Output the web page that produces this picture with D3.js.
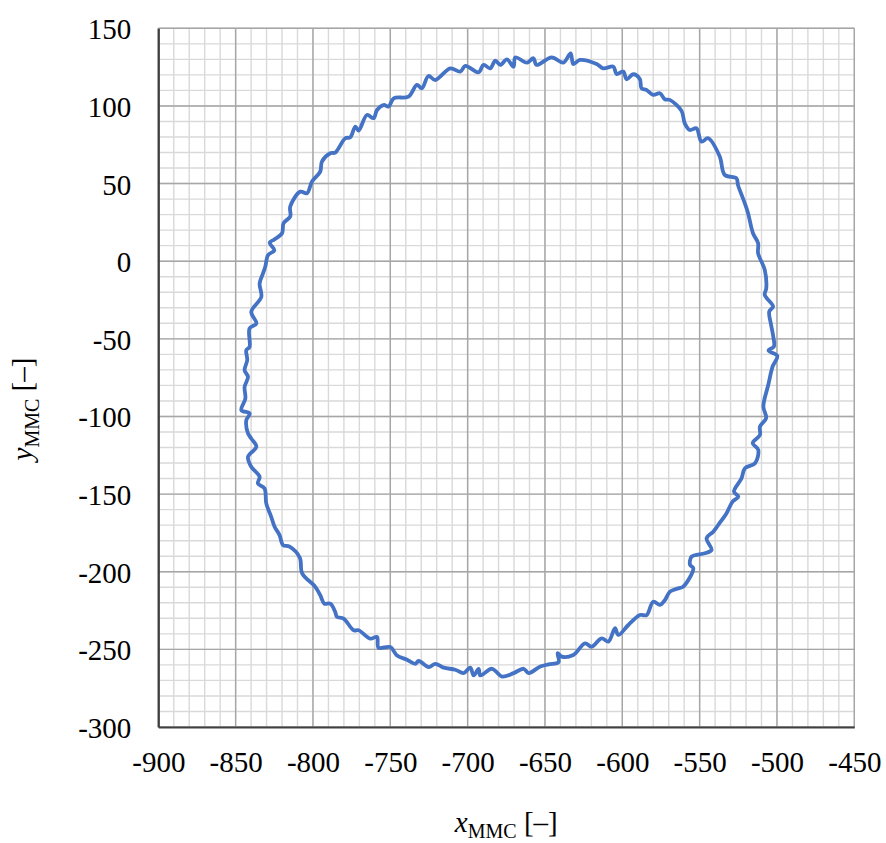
<!DOCTYPE html>
<html>
<head>
<meta charset="utf-8">
<script src="https://cdn.jsdelivr.net/npm/d3@7"></script>
<style>
	body { margin: 0; background: #fff; }
	text { font-family: "Liberation Serif", "Times New Roman", Tinos, serif; fill: #000; }
</style>
</head>
<body>
<div id="chart"></div>
<script>
// traced trajectory, clockwise from the left side
const xs = [-841, -836.6, -839.9, -833.4, -834.5, -832.3, -830.8, -829, -825, -828, -825, -820, -819, -814.7, -814.7, -808.2, -803.9, -800.6, -795.3, -794.2, -788.8, -785.6, -779.1, -775.9, -772.6, -770.5, -765.1, -760.8, -758.6, -754.3, -751.1, -747.8, -738.2, -732.8, -729.6, -725.3, -721, -711.2, -704.8, -701.5, -692.9, -689.7, -685.4, -682.1, -678.9, -674.6, -670.3, -669.2, -661.6, -657.5, -655.4, -645.7, -638.1, -633.4, -631.7, -627.4, -616.6, -612.3, -605.8, -603.7, -599.4, -597.2, -592.9, -588.6, -587.6, -584.4, -580, -575.7, -572.5, -569.3, -561.7, -559.6, -556.4, -552.1, -548.8, -544.5, -537, -533.8, -526.2, -525.2, -520.8, -518.7, -515.5, -512.2, -512.2, -507.9, -506.9, -507.9, -502.5, -505, -504, -502.4, -502, -505.5, -499.8, -502.8, -505.6, -508.8, -507, -511, -511, -515.7, -512.1, -514.2, -520.7, -522.9, -527.8, -525, -528.7, -532.6, -538, -541.2, -545.5, -542.3, -546.6, -555.2, -556.2, -554.1, -560.6, -563.8, -569.2, -572.4, -575.6, -580, -584.3, -588.6, -596.1, -602.6, -604.7, -609, -613.4, -619.8, -624.1, -631.7, -639.2, -641.8, -641.2, -647.6, -653, -660.6, -663.8, -670.3, -677.8, -684.3, -691.8, -692.9, -696.1, -698.3, -702.6, -708, -715.5, -720.9, -725.2, -731.7, -733.8, -739.2, -745.7, -750, -757.6, -758.6, -763, -770.5, -773.7, -780.2, -784.5, -785.6, -788.8, -792.7, -795.3, -798.5, -807, -808.5, -815.1, -819.4, -821.6, -824.8, -827, -830.2, -831.3, -835.6, -834.5, -839.9, -842, -836.6, -839.9, -842, -843.1, -840.9, -846.3, -843.7, -844.2, -842, -844.2, -842.5, -843.1, -841];
const ys = [-43.3, -40.1, -32.6, -23, -14.4, -7.9, -3.4, 4, 7, 12, 14, 18, 24.5, 28.8, 35.2, 44.8, 43.8, 51.3, 57.7, 64.2, 69.5, 70, 79.2, 79.8, 86.7, 84.1, 94.2, 92.1, 97.4, 100.6, 99.6, 104.9, 106, 113.5, 111.4, 119.3, 116.7, 124.2, 122.1, 125.8, 121.7, 126.4, 124.2, 129.2, 126.4, 130, 125.3, 131.3, 127.9, 130.7, 126.4, 131.3, 127.9, 133.9, 127, 129.6, 127, 124.2, 125.3, 120.6, 122.1, 117.2, 120.4, 117.2, 111.4, 110.3, 107.1, 108.2, 104.3, 103.9, 96.8, 88.8, 84.5, 85.6, 77, 79.2, 67.4, 55.6, 53.4, 49.1, 37.3, 30.9, 18, 11.6, 5.1, -5.6, -17.4, -21.7, -29.2, -32.4, -40, -48.5, -55, -57.5, -61, -67.8, -79.6, -93.6, -101, -106.5, -111.9, -117.2, -121.5, -130.1, -133.3, -139.8, -148.4, -151.6, -154.8, -162.3, -169.9, -174.2, -178.5, -186, -188.1, -190.3, -195.6, -197.8, -209.6, -210.7, -212.8, -218.2, -221.4, -219.3, -227.9, -227.9, -234.3, -240.7, -236.4, -245, -242.9, -248.3, -246.1, -253.6, -254.7, -252.4, -258.2, -259.7, -261, -265.3, -262.5, -265.3, -267.5, -262.5, -266.8, -262.5, -266.8, -261.8, -265.3, -263.1, -261.8, -259.3, -261.4, -257.5, -259.3, -256.7, -253.9, -248.5, -248.9, -242, -243.1, -237.7, -237.7, -230.2, -229.1, -225.9, -220.5, -220.5, -215.1, -209.7, -201, -191, -183.9, -182.8, -176.4, -171, -164.6, -156, -146.4, -143.1, -138.8, -132.4, -126, -119.5, -114.2, -110.9, -102.4, -98.1, -95.9, -88.4, -80.9, -74.5, -70.2, -63.7, -57.3, -55.2, -43.3];

const xTicks = [-900, -850, -800, -750, -700, -650, -600, -550, -500, -450];
const yTicks = [150, 100, 50, 0, -50, -100, -150, -200, -250, -300];

const width = 886,
	height = 843,
	mLeft = 158.3,
	mRight = 854.3,
	mTop = 28.3,
	mBottom = 727,
	serif = '"Liberation Serif", "Times New Roman", Tinos, serif';

const svg = d3
	.select("#chart")
	.append("svg")
	.attr("width", width)
	.attr("height", height);

const x = d3.scaleLinear().domain([-900, -450]).range([mLeft, mRight]);
const y = d3.scaleLinear().domain([-300, 150]).range([mBottom, mTop]);

// minor grid (every 10)
const g = svg.append("g");
g.selectAll(".mx")
	.data(d3.range(-900, -449, 10))
	.enter()
	.append("line")
	.attr("x1", (d) => x(d))
	.attr("x2", (d) => x(d))
	.attr("y1", mTop)
	.attr("y2", mBottom)
	.attr("stroke", "#d9d9d9")
	.attr("stroke-width", 1.4);
g.selectAll(".my")
	.data(d3.range(-300, 151, 10))
	.enter()
	.append("line")
	.attr("x1", mLeft)
	.attr("x2", mRight)
	.attr("y1", (d) => y(d))
	.attr("y2", (d) => y(d))
	.attr("stroke", "#d9d9d9")
	.attr("stroke-width", 1.4);

// major grid
g.selectAll(".Mx")
	.data(xTicks)
	.enter()
	.append("line")
	.attr("x1", (d) => x(d))
	.attr("x2", (d) => x(d))
	.attr("y1", mTop)
	.attr("y2", mBottom)
	.attr("stroke", "#a6a6a6")
	.attr("stroke-width", 1.4);
g.selectAll(".My")
	.data(yTicks)
	.enter()
	.append("line")
	.attr("x1", mLeft)
	.attr("x2", mRight)
	.attr("y1", (d) => y(d))
	.attr("y2", (d) => y(d))
	.attr("stroke", "#a6a6a6")
	.attr("stroke-width", 1.4);

// axes
const xAxis = svg
	.append("g")
	.attr("transform", `translate(0,${mBottom})`)
	.call(d3.axisBottom(x).tickValues(xTicks).tickSize(0).tickPadding(24).tickFormat(d3.format("d")));
const yAxis = svg
	.append("g")
	.attr("transform", `translate(${mLeft},0)`)
	.call(d3.axisLeft(y).tickValues(yTicks).tickSize(0).tickPadding(27).tickFormat(d3.format("d")));

[xAxis, yAxis].forEach((a) => {
	a.attr("font-family", serif).attr("font-size", 29);
	a.select(".domain").attr("stroke", "#404040").attr("stroke-width", 2.2);
	a.selectAll("text")
		.style("font-family", serif)
		.style("font-size", "29px")
		.attr("fill", "#000")
		.text((d) => String(d).replace("\u2212", "-"));
});
yAxis.selectAll("text").attr("dy", "0.36em");

// trajectory
const pts = xs.map((v, i) => [v, ys[i]]);
const line = d3
	.line()
	.x((d) => x(d[0]))
	.y((d) => y(d[1]))
	.curve(d3.curveCatmullRomClosed.alpha(0.5));

svg.append("path")
	.datum(pts)
	.attr("d", line)
	.attr("fill", "none")
	.attr("stroke", "#4472c4")
	.attr("stroke-width", 3.8)
	.attr("stroke-linejoin", "round");

// axis titles
const xt = svg
	.append("text")
	.attr("x", (mLeft + mRight) / 2)
	.attr("y", 832)
	.attr("text-anchor", "middle")
	.style("font-family", serif)
	.style("font-size", "29px");
xt.append("tspan").style("font-style", "italic").text("x");
xt.append("tspan").attr("dy", 6).style("font-size", "20px").text("MMC");
xt.append("tspan").attr("dy", -6).text(" [\u2013]");

const yt = svg
	.append("text")
	.attr("transform", "translate(32,409) rotate(-90)")
	.attr("text-anchor", "middle")
	.style("font-family", serif)
	.style("font-size", "29px");
yt.append("tspan").style("font-style", "italic").text("y");
yt.append("tspan").attr("dy", 7).style("font-size", "20px").text("MMC");
yt.append("tspan").attr("dy", -7).text(" [\u2013]");
</script>
</body>
</html>
